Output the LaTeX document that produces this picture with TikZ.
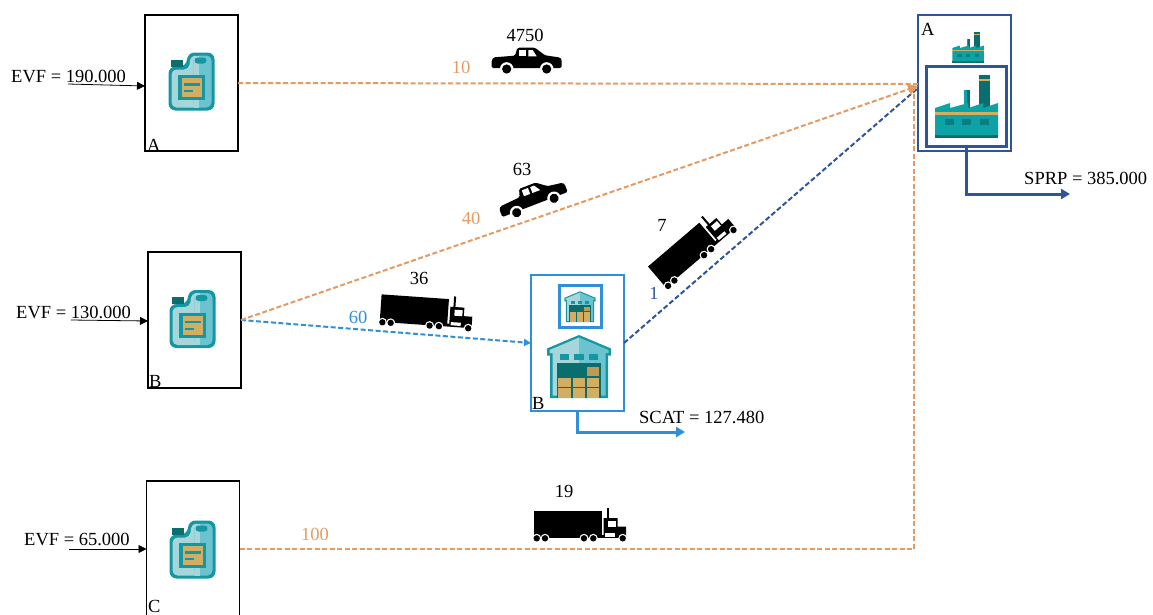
\documentclass[tikz,border=0pt]{standalone}
\usepackage{fontspec}
\setmainfont{Liberation Serif}
\usetikzlibrary{arrows.meta}
\definecolor{flowOrange}{HTML}{E59A62}
\definecolor{flowBlue}{HTML}{2F8FD8}
\definecolor{flowNavy}{HTML}{2E5597}
\definecolor{iconTeal}{HTML}{1497A2}
\definecolor{iconDark}{HTML}{0A6E6E}
\definecolor{iconLight}{HTML}{A6D6D9}
\definecolor{iconMid}{HTML}{6CC3D0}
\definecolor{iconTan}{HTML}{D2AE62}
\definecolor{iconBrown}{HTML}{C09A52}
\definecolor{plantTeal}{HTML}{0BA3A6}
\tikzset{
  sitebox/.style={draw=black,line width=1.1pt,minimum width=93pt,minimum height=136pt,inner sep=0pt,outer sep=0pt},
  hubbox/.style={sitebox,draw=flowNavy},
  depotbox/.style={sitebox,draw=flowBlue},
  lab/.style={font=\fontsize{18.5}{20}\selectfont,inner sep=0pt,text=black},
  orangelink/.style={draw=flowOrange,line width=2pt,dash pattern=on 5pt off 2.5pt},
  bluelink/.style={draw=flowBlue,line width=2pt,dash pattern=on 5pt off 2.5pt},
  navylink/.style={draw=flowNavy,line width=2pt,dash pattern=on 5pt off 2.5pt},
  feedlink/.style={draw=black,line width=.8pt,-{Triangle[length=8pt,width=8pt]}},
  outlink/.style={line width=3pt,-{Triangle[length=9pt,width=10pt]}},
  pics/jugicon/.style={code={
    \path[fill=iconTeal,rounded corners=7pt] (-23,-15)--(-5,-15)--(-4,-29)--(23,-29)--(23,29)--(-23,29)--cycle;
    \path[fill=iconLight,rounded corners=5pt] (-20,-12)--(-2.5,-12)--(-1,-26)--(8,-26)--(8,26)--(-20,26)--cycle;
    \path[fill=iconMid,rounded corners=5pt] (2,-26)--(20,-26)--(20,26)--(2,26)--cycle;
    \path[fill=iconLight] (2,-26) rectangle (7.5,26);
    \path[fill=iconDark] (-21,-22) rectangle (-9,-15);
    \path[fill=iconTeal,rounded corners=3pt] (3,-24) rectangle (15,-18);
    \path[fill=iconTeal] (-13.5,-6.5) rectangle (13.5,18.5);
    \path[fill=iconTan] (-10,-3.5) rectangle (10,15.5);
    \path[fill=iconTeal] (-8,1.5) rectangle (8,4);
    \path[fill=iconTeal] (-7.5,8.5) rectangle (1,10.5);
  }},
  pics/factoryicon/.style={code={
    \path[fill=iconDark] (12,-31) rectangle (23,6);
    \path[fill=iconTan] (12,-27) rectangle (23,-25);
    \path[fill=plantTeal] (-3,-16) rectangle (3.5,6);
    \path[fill=iconDark] (0,-16) rectangle (3.5,6);
    \path[fill=plantTeal] (-31.5,2)--(-16.5,-3)--(-16.5,2)--(1.8,-3)--(1.8,2)--(16.8,-3)--(16.8,2)--(31.5,-3)--(31.5,31.5)--(-31.5,31.5)--cycle;
    \path[fill=iconTan] (-31.5,6) rectangle (31.5,8.5);
    \path[fill=iconDark] (-31.5,28.5) rectangle (31.5,31.5);
    \foreach \winx in {-22,-4.5,13}
      \path[fill=iconDark,opacity=.7] (\winx,13) rectangle ++(9,6);
  }},
  pics/depoticon/.style={code={
    \path[fill=iconTeal] (-32,-18)--(0,-31.5)--(32,-18)--(32,-11)--(29,-11)--(29,31.5)--(-29,31.5)--(-29,-11)--(-32,-11)--cycle;
    \path[fill=iconLight] (-29.5,-16.5)--(0,-29)--(0,29)--(-26.5,29)--(-26.5,-13.5)--(-29.5,-13.5)--cycle;
    \path[fill=iconMid] (29.5,-16.5)--(0,-29)--(0,29)--(26.5,29)--(26.5,-13.5)--(29.5,-13.5)--cycle;
    \foreach \winx in {-19,-4.6,9.7}
      \path[fill=iconTeal] (\winx,-12.5) rectangle ++(9.3,6);
    \path[fill=iconDark] (-22.5,-3.5) rectangle (22,31.5);
    \path[fill=iconBrown] (7.5,0) rectangle (20,9.5);
    \foreach \boxy in {11,21.5}
      \foreach \boxx in {-21,-6.5,7.5}
        \path[fill=iconTan] (\boxx,\boxy) rectangle ++(12.5,9.5);
  }},
  pics/truckicon/.style={code={
    \path[fill=black] (-45.5,-14.5) rectangle (22,11);
    \path[fill=black] (-45.5,10) rectangle (46.5,13);
    \path[fill=black] (27,-17.5) rectangle (29,-5);
    \path[fill=black] (24,-7)--(38,-7)--(38,1.5)--(46.5,1.5)--(46.5,12)--(24,12)--cycle;
    \path[fill=white] (28.5,-4.3) rectangle (36.5,1.7);
    \path[fill=white] (25.5,8.3) rectangle (35.5,11.5);
    \foreach \whlx in {-42.8,-34.5,4.5,13.8,43.2}{
      \path[fill=white] (\whlx,13.3) circle (4.5pt);
      \path[fill=black] (\whlx,13.3) circle (3.2pt);
    }
  }},
  pics/pickupicon/.style={code={
    \path[fill=black,rounded corners=1.5pt] (-35,-1)--(-33,-3.7)--(-11.7,-5.3)--(-9.3,-13.3)--(8.3,-13.3)--(18.3,-5.7)--(33.3,-3.5)--(35,-1.6)--(35,7)--(-35,7)--cycle;
    \path[fill=white] (-7.3,-11) rectangle (-0.7,-4.7);
    \path[fill=white] (1.7,-11)--(6,-11)--(10,-4.7)--(1.7,-4.7)--cycle;
    \foreach \whlx in {-20,20}{
      \path[fill=white] (\whlx,8) circle (6.8pt);
      \path[fill=black] (\whlx,8) circle (4.6pt);
    }
  }}
}

\begin{document}
\begin{tikzpicture}[x=1pt,y=-1pt]
   \clip (0,0) rectangle (1153,614);

   \node[sitebox] (sourceA) at (191.5,83) {};
   \node[sitebox] (sourceB) at (194.5,320) {};
   \node[sitebox] (sourceC) at (193,549) {};
   \node[hubbox] (plantA) at (964.5,83) {};
   \node[depotbox] (depotB) at (577.5,343) {};
   \node[draw=flowNavy,line width=3pt,minimum size=80pt,inner sep=0pt,outer sep=0pt] (plantIn) at (966.5,106.5) {};
   \node[draw=flowBlue,line width=3pt,minimum size=42pt,inner sep=0pt,outer sep=0pt] (depotIn) at (580.5,306) {};

   \pic at (191.5,81.5) {jugicon};
   \pic at (192.5,319) {jugicon};
   \pic at (192.5,549.5) {jugicon};
   \pic at (966.5,106) {factoryicon};
   \pic[scale=.5] at (968,47) {factoryicon};
   \pic at (579,366.5) {depoticon};
   \pic[scale=.49] at (580,306.7) {depoticon};

   \pic at (526.7,61) {pickupicon};
   \pic[rotate=21] at (532.5,198) {pickupicon};
   \pic[rotate=-4] at (426,312) {truckicon};
   \pic[rotate=40.5] at (692,248) {truckicon};
   \pic at (579.5,525) {truckicon};

   \node[lab,anchor=base west] (textA) at (147,151) {A};
   \node[lab,anchor=base west] (textB) at (149,387) {B};
   \node[lab,anchor=base west] (textC) at (148,612) {C};
   \node[lab,anchor=base west] (textPlant) at (921,35) {A};
   \node[lab,anchor=base west] (textDepot) at (532,409) {B};

   \coordinate (feedA) at (68,84);
   \coordinate (feedB) at (71,320);
   \coordinate (feedC) at (69,549);
   \draw[feedlink] (feedA) -- ([yshift=-3pt]sourceA.west);
   \draw[feedlink] (feedB) -- ([yshift=-1pt]sourceB.west);
   \draw[feedlink] (feedC) -- (sourceC.west);
   \node[lab,anchor=base west] (evfA) at (11,82) {EVF = 190.000};
   \node[lab,anchor=base west] (evfB) at (16,318) {EVF = 130.000};
   \node[lab,anchor=base west] (evfC) at (24,545) {EVF = 65.000};

   \draw[orangelink] (sourceA.east) -- ([yshift=-1pt]plantA.west);
   \draw[bluelink,-{Triangle[length=7pt,width=7pt]}] (sourceB.east) -- (depotB.west);
   \draw[navylink] (depotB.east) -- ([yshift=-5pt]plantA.west);
   \draw[orangelink] (sourceC.east) -| ([xshift=-4pt,yshift=-5pt]plantA.west);
   \draw[orangelink,-{Triangle[length=10pt,width=11pt]}] (sourceB.east) -- ([yshift=-3pt]plantA.west);

   \coordinate (plantOut) at (1070,194);
   \coordinate (depotOut) at (685,432);
   \draw[outlink,draw=flowNavy] (plantIn.south) |- (plantOut);
   \draw[outlink,draw=flowBlue] (depotB.south) |- (depotOut);

   \node[lab] (costA) at (525,35) {4750};
   \node[lab] (costB) at (522,169) {63};
   \node[lab] (costC) at (419,278) {36};
   \node[lab] (costD) at (662,225) {7};
   \node[lab] (costE) at (564,491) {19};
   \node[lab,text=flowOrange] (qtyA) at (461,67) {10};
   \node[lab,text=flowOrange] (qtyB) at (471,218) {40};
   \node[lab,text=flowBlue] (qtyC) at (358,317) {60};
   \node[lab,text=flowNavy] (qtyD) at (654,293) {1};
   \node[lab,text=flowOrange] (qtyE) at (315,534) {100};

   \node[lab,anchor=base west] (sprp) at (1024,184) {SPRP = 385.000};
   \node[lab,anchor=base west] (scat) at (639,423) {SCAT = 127.480};
\end{tikzpicture}
\end{document}
